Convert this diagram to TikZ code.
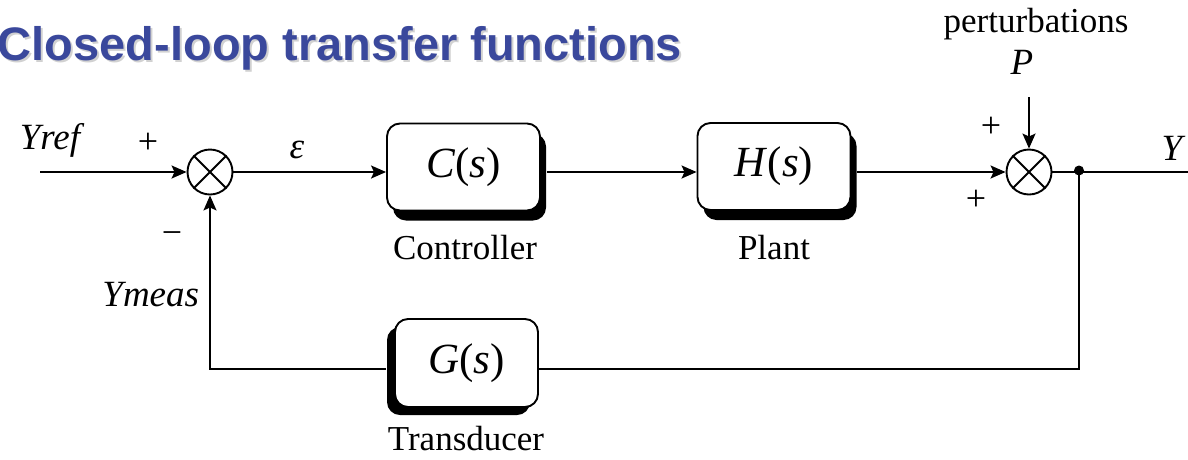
\documentclass[tikz,border=0pt]{standalone}
\usepackage{fontspec}
\setmainfont{Liberation Serif}
\newfontfamily\titlefont{Liberation Sans}
\usetikzlibrary{arrows.meta,shadows}
\definecolor{titleblue}{RGB}{58,72,156}
\newcommand{\tf}[1]{\textit{#1}(\textit{s})}
\begin{document}
\begin{tikzpicture}[x=1pt,y=-1pt,
  line width=1.9pt,
  >={Stealth[length=15pt,width=13pt,inset=3pt]},
  lbl/.style={font=\fontsize{35}{40}\selectfont, inner sep=0pt},
  ilbl/.style={font=\fontsize{37}{40}\selectfont\itshape, inner sep=0pt},
  sgn/.style={font=\fontsize{36}{40}\selectfont, inner sep=0pt},
  tfbox/.style={draw, fill=white, rounded corners=13pt, minimum width=153pt,
     minimum height=87pt, inner sep=0pt, font=\fontsize{43}{46}\selectfont},
  shadowR/.style={drop shadow={shadow xshift=6pt, shadow yshift=-10pt, opacity=1, fill=black}},
  shadowL/.style={drop shadow={shadow xshift=-8pt, shadow yshift=-8pt, opacity=1, fill=black}},
  sumnode/.style={draw, circle, minimum size=45pt, inner sep=0pt},
  titletext/.style={font=\fontsize{47}{52}\titlefont\bfseries, inner sep=0pt, anchor=base west}
]
\useasboundingbox (0,0) rectangle (1188,459);

% title with shadow
\node[titletext, text=black!18] (titleshadow) at (-1,62) {Closed-loop transfer functions};
\node[titletext, text=titleblue] (title) at (-3,60) {Closed-loop transfer functions};

% blocks
\node[tfbox, shadowR] (C) at (463.5,167) {\raisebox{-4pt}{\tf{C}}};
\node[tfbox, shadowR] (H) at (774,166.5) {\raisebox{-4pt}{\tf{H}}};
\node[tfbox, shadowL, minimum width=143pt, minimum height=88pt] (G) at (466.5,363) {\raisebox{-5pt}{\tf{G}}};

% summing junctions
\node[sumnode] (s1) at (210,172) {};
\draw (s1.north west) -- (s1.south east) (s1.north east) -- (s1.south west);
\node[sumnode] (s2) at (1029,172) {};
\draw (s2.north west) -- (s2.south east) (s2.north east) -- (s2.south west);

% coordinates
\coordinate (in) at (40,172);
\coordinate (out) at (1200,172);
\coordinate (pin) at (1029,97);
\node[circle, fill=black, inner sep=0pt, minimum size=10pt] (dot) at (1079,170.5) {};
\coordinate (fbR) at (1079,369);
\coordinate (fbL) at (210,369);

% connectors
\draw[->] (in) -- (s1.west);
\draw[->] (s1.east) -- (C.west |- s1.east);
\draw[->] ([xshift=6pt]C.east |- s1.east) -- (H.west |- s1.east);
\draw[->] ([xshift=6pt]H.east |- s2.west) -- (s2.west);
\draw[->] (pin) -- (s2.north);
\draw (s2.east) -- (out);
\draw (dot.center) -- (fbR) -- (G.east |- fbR);
\draw[->] ([xshift=-8pt]G.west |- fbL) -- (fbL) -- (s1.south);

% labels
\node[ilbl] (yref) at (50,140) {Yref};
\node[sgn] (p1) at (148,143) {+};
\node[sgn] (m1) at (172,238) {\textminus};
\node[ilbl] (eps) at (297,150) {ε};
\node[ilbl, anchor=east] (ymeas) at (200,295) {Ymeas};
\node[lbl] (lc) at (465,248) {Controller};
\node[lbl] (lp) at (774,248) {Plant};
\node[lbl] (lt) at (466,439) {Transducer};
\node[lbl] (pert) at (1036,24) {perturbations};
\node[ilbl] (P) at (1022,62) {P};
\node[sgn] (p2) at (991,127) {+};
\node[sgn] (p3) at (976,200) {+};
\node[ilbl] (Y) at (1172,148) {Y};
\end{tikzpicture}
\end{document}
